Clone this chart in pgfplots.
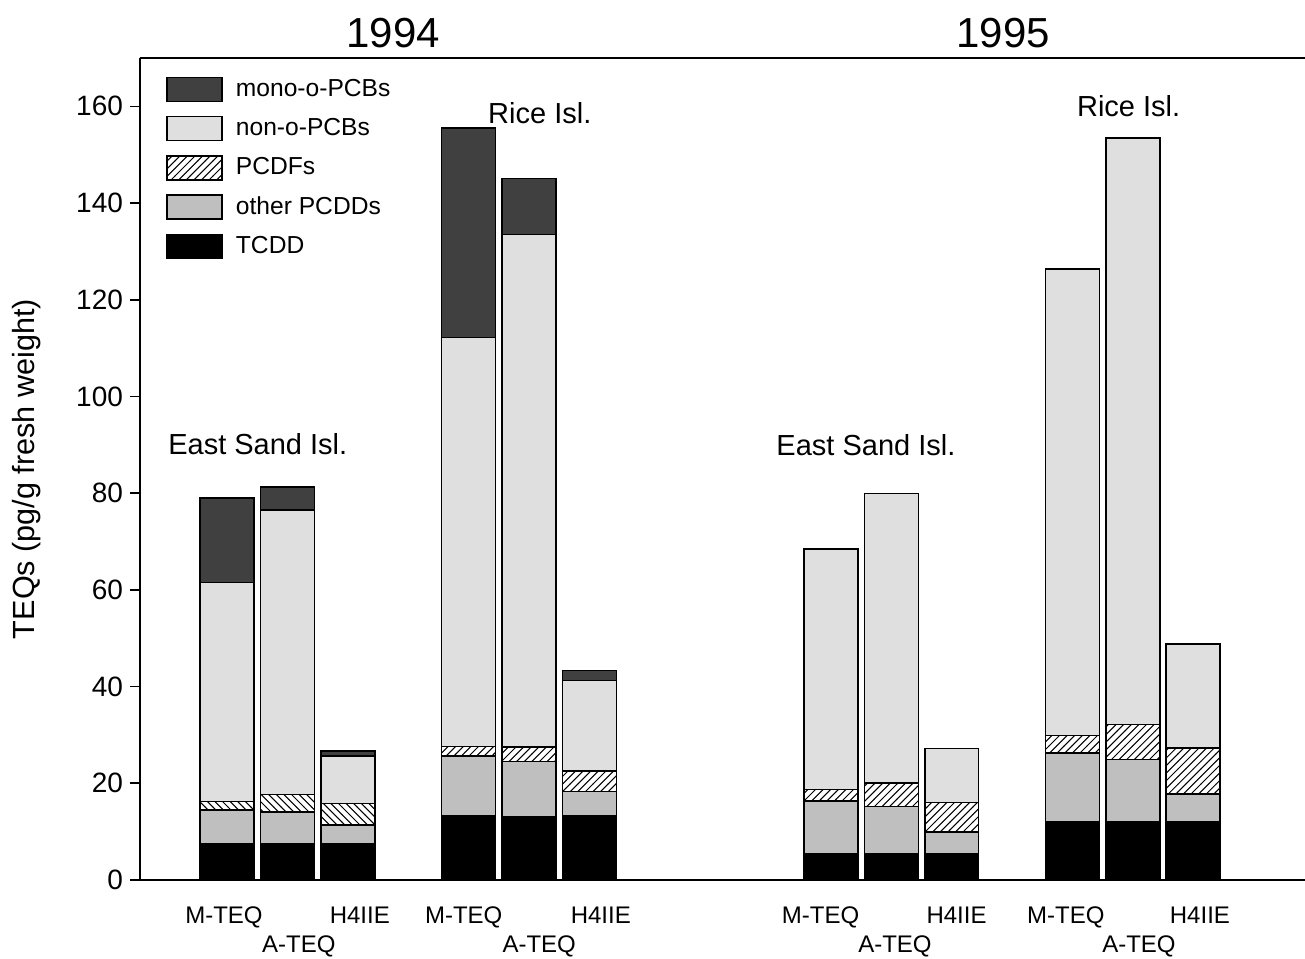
\documentclass[border=0pt]{standalone}
\usepackage{fontspec}
\setmainfont{Liberation Sans}
\usepackage{pgfplots}
\pgfplotsset{compat=1.18}
\usepackage{pgfplotstable}
\usetikzlibrary{patterns}
\definecolor{monoc}{HTML}{404040}
\definecolor{nonoc}{HTML}{DFDFDF}
\definecolor{otherc}{HTML}{BFBFBF}

\pgfdeclarepatternformonly{myne}{\pgfqpoint{-1pt}{-1pt}}{\pgfqpoint{4.8bp}{4.8bp}}{\pgfqpoint{3.8bp}{3.8bp}}{\pgfsetlinewidth{0.5bp}\pgfpathmoveto{\pgfqpoint{0pt}{0pt}}\pgfpathlineto{\pgfqpoint{3.9bp}{3.9bp}}\pgfusepath{stroke}}
\pgfdeclarepatternformonly{mynw}{\pgfqpoint{-1pt}{-1pt}}{\pgfqpoint{4.8bp}{4.8bp}}{\pgfqpoint{3.8bp}{3.8bp}}{\pgfsetlinewidth{0.5bp}\pgfpathmoveto{\pgfqpoint{0pt}{3.8bp}}\pgfpathlineto{\pgfqpoint{3.9bp}{-0.1bp}}\pgfusepath{stroke}}

\pgfplotstableread{
x  tcdd other pcdfA pcdfB nono mono
1  7.4  7.1   1.7   0     45.3 17.5
2  7.4  6.7   3.6   0     58.8 4.8
3  7.4  4.0   4.4   0     9.9  1.0
5  13.3 12.4  0     1.9   84.6 43.3
6  13.1 11.4  0     3.0   106.0 11.6
7  13.3 5.0   0     4.3   18.7 2.0
11 5.4  10.9  0     2.4   49.7 0
12 5.4  9.8   0     4.8   59.9 0
13 5.4  4.5   0     6.1   11.2 0
15 12.0 14.3  0     3.6   96.4 0
16 12.0 12.9  0     7.3   121.2 0
17 12.0 5.8   0     9.5   21.5 0
}\datatable

\begin{document}
\begin{tikzpicture}
\begin{axis}[
  name=ax,
  scale only axis,
  width=582.5bp, height=411bp,
  xmin=-0.44, xmax=18.85,
  ymin=0, ymax=170,
  axis x line*=box,
  axis y line*=left,
  axis line style={line width=0.8bp},
  ybar stacked,
  bar width=0.894,
  xtick=\empty,
  ytick={0,20,...,160},
  tick align=outside,
  major tick length=5bp,
  tick style={line width=0.8bp, black},
  /pgf/number format/assume math mode=true,
  yticklabel style={font=\fontsize{14bp}{16bp}\selectfont},
  clip=false,
  reverse legend,
  legend cell align=left,
  legend image code/.code={\draw[#1, draw=black, line width=0.8bp] (0bp,-6bp) rectangle (27.5bp,6bp);},
  legend style={draw=none, fill=none, at={(axis description cs:0,1)}, anchor=north west,
     xshift=10bp, yshift=-6.5bp, font=\fontsize{12.3bp}{14bp}\selectfont,
     row sep=5.5bp, /tikz/every odd column/.append style={column sep=4.5bp}},
  every axis plot/.append style={draw=black, line width=0.8bp},
]
\addplot[fill=black] table[x=x,y=tcdd]{\datatable};
\addlegendentry{TCDD}
\addplot[fill=otherc] table[x=x,y=other]{\datatable};
\addlegendentry{other PCDDs}
\addplot[forget plot, pattern=mynw] table[x=x,y=pcdfA]{\datatable};
\addplot[pattern=myne] table[x=x,y=pcdfB]{\datatable};
\addlegendentry{PCDFs}
\addplot[fill=nonoc] table[x=x,y=nono]{\datatable};
\addlegendentry{non-o-PCBs}
\addplot[fill=monoc] table[x=x,y=mono]{\datatable};
\addlegendentry{mono-o-PCBs}

\node[font=\fontsize{21bp}{24bp}\selectfont, yshift=12.5bp] at (rel axis cs:0.2172,1) {1994};
\node[font=\fontsize{21bp}{24bp}\selectfont, yshift=12.5bp] at (rel axis cs:0.7408,1) {1995};

\node[font=\fontsize{14.5bp}{16bp}\selectfont] at (axis cs:1.51,90.1) {East Sand Isl.};
\node[font=\fontsize{14.5bp}{16bp}\selectfont] at (axis cs:6.18,158.6) {Rice Isl.};
\node[font=\fontsize{14.5bp}{16bp}\selectfont] at (axis cs:11.58,89.9) {East Sand Isl.};
\node[font=\fontsize{14.5bp}{16bp}\selectfont] at (axis cs:15.93,160.0) {Rice Isl.};

\node[font=\fontsize{12bp}{14bp}\selectfont, anchor=base, yshift=-21.5bp] at (axis cs:0.95,0) {M-TEQ};
\node[font=\fontsize{12bp}{14bp}\selectfont, anchor=base, yshift=-21.5bp] at (axis cs:3.2,0) {H4IIE};
\node[font=\fontsize{12bp}{14bp}\selectfont, anchor=base, yshift=-36bp] at (axis cs:2.19,0) {A-TEQ};
\node[font=\fontsize{12bp}{14bp}\selectfont, anchor=base, yshift=-21.5bp] at (axis cs:4.92,0) {M-TEQ};
\node[font=\fontsize{12bp}{14bp}\selectfont, anchor=base, yshift=-21.5bp] at (axis cs:7.19,0) {H4IIE};
\node[font=\fontsize{12bp}{14bp}\selectfont, anchor=base, yshift=-36bp] at (axis cs:6.17,0) {A-TEQ};
\node[font=\fontsize{12bp}{14bp}\selectfont, anchor=base, yshift=-21.5bp] at (axis cs:10.83,0) {M-TEQ};
\node[font=\fontsize{12bp}{14bp}\selectfont, anchor=base, yshift=-21.5bp] at (axis cs:13.08,0) {H4IIE};
\node[font=\fontsize{12bp}{14bp}\selectfont, anchor=base, yshift=-36bp] at (axis cs:12.06,0) {A-TEQ};
\node[font=\fontsize{12bp}{14bp}\selectfont, anchor=base, yshift=-21.5bp] at (axis cs:14.89,0) {M-TEQ};
\node[font=\fontsize{12bp}{14bp}\selectfont, anchor=base, yshift=-21.5bp] at (axis cs:17.11,0) {H4IIE};
\node[font=\fontsize{12bp}{14bp}\selectfont, anchor=base, yshift=-36bp] at (axis cs:16.1,0) {A-TEQ};

\node[rotate=90, font=\fontsize{15.3bp}{17bp}\selectfont] at ([xshift=-56.5bp]rel axis cs:0,0.5) {TEQs (pg/g fresh weight)};
\end{axis}
\pgfresetboundingbox
\path[use as bounding box] (ax.south west) ++(-70bp,-39.5bp) rectangle ++(652.5bp,479.5bp);
\end{tikzpicture}
\end{document}
